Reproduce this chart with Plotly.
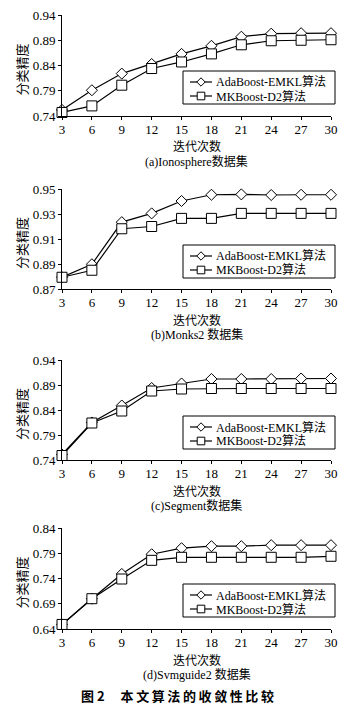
import plotly.graph_objects as go

W, H = 355, 710
iters = [3, 6, 9, 12, 15, 18, 21, 24, 27, 30]

# (a) Ionosphere
ada_iono = [0.752, 0.791, 0.824, 0.843, 0.863, 0.879, 0.897, 0.903, 0.904, 0.904]
mk_iono = [0.747, 0.760, 0.801, 0.834, 0.847, 0.863, 0.881, 0.889, 0.890, 0.891]
# (b) Monks2
ada_monks = [0.8794, 0.8898, 0.9235, 0.9305, 0.9404, 0.9454, 0.9457, 0.9452, 0.9454, 0.9454]
mk_monks = [0.8794, 0.8850, 0.9182, 0.9200, 0.9265, 0.9265, 0.9305, 0.9305, 0.9305, 0.9305]
# (c) Segment
ada_seg = [0.751, 0.815, 0.849, 0.884, 0.893, 0.902, 0.902, 0.902, 0.903, 0.903]
mk_seg = [0.749, 0.814, 0.838, 0.878, 0.882, 0.883, 0.883, 0.883, 0.883, 0.883]
# (d) Svmguide2
ada_svm = [0.649, 0.700, 0.749, 0.788, 0.800, 0.804, 0.804, 0.806, 0.806, 0.806]
mk_svm = [0.649, 0.700, 0.739, 0.776, 0.782, 0.782, 0.782, 0.782, 0.782, 0.784]

y_ranges = [[0.74, 0.94], [0.87, 0.95], [0.74, 0.94], [0.64, 0.84]]
y_dticks = [0.05, 0.02, 0.05, 0.05]
captions = ["(a)Ionosphere数据集", "(b)Monks2 数据集", "(c)Segment数据集", "(d)Svmguide2 数据集"]
series_names = ["AdaBoost-EMKL算法", "MKBoost-D2算法"]
x_title = "迭代次数"
y_title = "分类精度"
fig_title = "图 2\u2003 本\u2009文\u2009算\u2009法\u2009的\u2009收\u2009敛\u2009性\u2009比\u2009较"

panels = [(ada_iono, mk_iono), (ada_monks, mk_monks), (ada_seg, mk_seg), (ada_svm, mk_svm)]

# pixel layout of plot areas (top, bottom)
plot_px = [(15, 116), (189, 289), (360, 460), (528, 629)]
x_left, x_right = 62, 331

FONT = "Liberation Serif, 'Times New Roman', 'Noto Sans CJK SC', serif"
CJK = "'Noto Sans CJK SC', sans-serif"
fig = go.Figure()
layout = dict(
    template="none",
    width=W, height=H, margin=dict(l=0, r=0, t=0, b=0, pad=0, autoexpand=False),
    paper_bgcolor="white", plot_bgcolor="white",
    font=dict(family=FONT, size=13, color="black"),
    showlegend=False,
)
annotations = []
shapes = []

def px(p):
    return p / W

def py(p):
    return 1 - p / H

def ann(text, x, y, size, family, angle=0, xanchor="center"):
    annotations.append(dict(text=text, x=px(x), y=py(y), xref="paper", yref="paper",
                            xanchor=xanchor, yanchor="middle", showarrow=False,
                            textangle=angle, font=dict(size=size, family=family, color="black")))

symbols = ["diamond", "square"]
sizes = [8.5, 10]

for i, ((ada, mk), (top, bot)) in enumerate(zip(panels, plot_px)):
    k = i + 1
    xa = "x" if k == 1 else f"x{k}"
    ya = "y" if k == 1 else f"y{k}"
    for j, vals in enumerate((ada, mk)):
        fig.add_trace(go.Scatter(
            x=iters, y=vals, name=series_names[j], mode="lines+markers",
            xaxis=xa, yaxis=ya, hoverinfo="skip",
            line=dict(color="black", width=1.2),
            marker=dict(symbol=symbols[j], size=sizes[j], color="white",
                        line=dict(color="black", width=1)),
            cliponaxis=False,
        ))
    xkey = "xaxis" if k == 1 else f"xaxis{k}"
    ykey = "yaxis" if k == 1 else f"yaxis{k}"
    layout[xkey] = dict(
        domain=[px(x_left), px(x_right)], anchor=ya, range=[3, 30], automargin=False,
        tickmode="array", tickvals=iters, ticktext=[str(v) for v in iters],
        showgrid=False, zeroline=False, showline=True, linecolor="black", linewidth=1,
        ticks="outside", ticklen=3, tickcolor="black", tickfont=dict(size=13),
        ticklabelstandoff=-2,
    )
    r0, r1 = y_ranges[i]
    layout[ykey] = dict(
        domain=[py(bot), py(top)], anchor=xa, range=[r0, r1], automargin=False,
        tick0=r0, dtick=y_dticks[i], tickformat=".2f",
        showgrid=False, zeroline=False, showline=True, linecolor="black", linewidth=1,
        ticks="outside", ticklen=3, tickcolor="black", tickfont=dict(size=13),
    )

    # manual legend box
    bx0, bx1 = 183, 335
    by0, by1 = top + 56, top + 89
    shapes.append(dict(type="rect", xref="paper", yref="paper",
                       x0=px(bx0), x1=px(bx1), y0=py(by1), y1=py(by0),
                       line=dict(color="black", width=1), fillcolor="white", layer="above"))
    for j in range(2):
        ry = top + 67 + j * 14
        shapes.append(dict(type="line", xref="paper", yref="paper",
                           x0=px(190), x1=px(212), y0=py(ry), y1=py(ry),
                           line=dict(color="black", width=1.2), layer="above"))
        cx = 201
        if j == 0:
            r = 4.2
            path = (f"M {px(cx - r)},{py(ry)} L {px(cx)},{py(ry - r)} "
                    f"L {px(cx + r)},{py(ry)} L {px(cx)},{py(ry + r)} Z")
            shapes.append(dict(type="path", xref="paper", yref="paper", path=path,
                               line=dict(color="black", width=1), fillcolor="white", layer="above"))
        else:
            r = 3.8
            shapes.append(dict(type="rect", xref="paper", yref="paper",
                               x0=px(cx - r), x1=px(cx + r), y0=py(ry + r), y1=py(ry - r),
                               line=dict(color="black", width=1), fillcolor="white", layer="above"))
        ann(series_names[j], 213.5, ry, 12, FONT, xanchor="left")

    ann(x_title, (x_left + x_right) / 2, bot + 30, 12, CJK)
    ann(captions[i], (x_left + x_right) / 2, bot + 45, 12, FONT)
    ann(y_title, 21, (top + bot) / 2 + 4, 13, CJK, angle=-90)

ann("<b>" + fig_title + "</b>", 177, 695, 13, CJK)
layout["annotations"] = annotations
layout["shapes"] = shapes
fig.update_layout(**layout)
fig.write_html("out.html", config={"displayModeBar": False, "staticPlot": True},
               post_script="document.body.style.margin='0';document.body.style.overflow='hidden';")
